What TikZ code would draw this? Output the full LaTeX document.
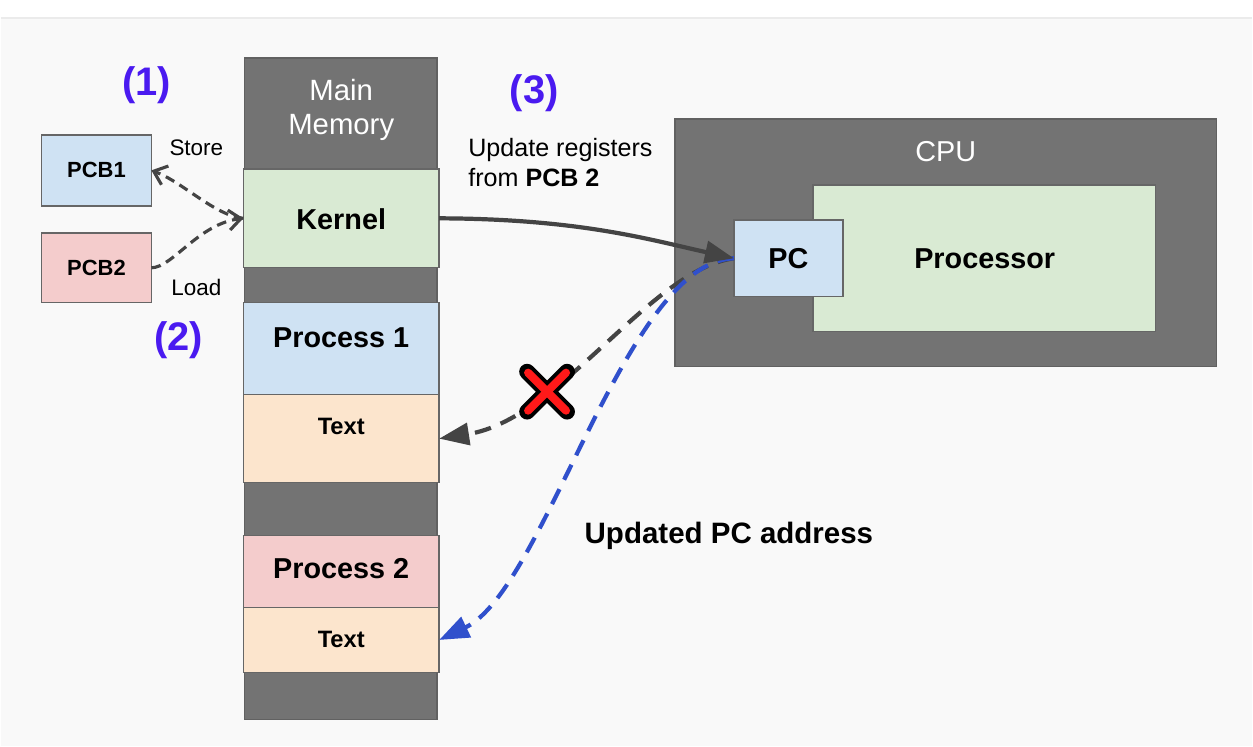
\documentclass[tikz,border=0pt]{standalone}
\usepackage{fontspec}
\setmainfont{Liberation Sans}
\usetikzlibrary{arrows.meta}

\definecolor{pageGray}{HTML}{F9F9F9}
\definecolor{boxGray}{HTML}{737373}
\definecolor{kernelGreen}{HTML}{D9EAD3}
\definecolor{pcbBlue}{HTML}{CFE2F3}
\definecolor{pcbPink}{HTML}{F4CCCC}
\definecolor{textOrange}{HTML}{FCE5CD}
\definecolor{stepViolet}{HTML}{4A1AF0}
\definecolor{pcBlue}{HTML}{3050CC}
\definecolor{arrowGray}{HTML}{444444}

\begin{document}
\begin{tikzpicture}[x=0.02cm, y=-0.02cm]
   \tikzstyle{cell}=[rectangle, draw=black!60, line width=0.8pt, inner sep=0pt, outer sep=0pt]
   \tikzstyle{stepnum}=[text=stepViolet, font=\bfseries\fontsize{22.7}{26}\selectfont]
   \tikzstyle{small}=[font=\fontsize{12.8}{15}\selectfont]
   \tikzstyle{pcbfont}=[font=\bfseries\fontsize{12.5}{15}\selectfont]
   \tikzstyle{big}=[font=\bfseries\fontsize{16.4}{19}\selectfont]
   \tikzstyle{savepath}=[dash pattern=on 5.5pt off 3.5pt, line width=1.8pt, draw=arrowGray]
   \tikzstyle{jump}=[dash pattern=on 9.5pt off 6pt, line width=2.4pt]
   \fill[white] (0,0) rectangle (1253,18);
   \fill[pageGray] (0,18) rectangle (1253,747);
   \draw[black!8, line width=0.6pt] (0,18) -- (1253,18);
   \useasboundingbox (0,0) rectangle (1253,747);

   % main memory column
   \node[cell, fill=boxGray, draw=black!62, minimum width=3.86cm, minimum height=13.24cm] (memory) at (340.5,389) {};
   \node[align=center, text=white, font=\fontsize{16.7}{19.8}\selectfont] (memlabel) at (341,110) {Main\\Memory};
   \foreach \name/\y/\h/\col/\txt/\ty/\fs in {kernel/218.5/1.98/kernelGreen/Kernel/219/16.4,
       proc1/349/1.84/pcbBlue/Process 1/338/16.4,
       text1/439/1.76/textOrange/Text/427/13.5,
       proc2/572/1.44/pcbPink/Process 2/569/16.4,
       text2/640.5/1.30/textOrange/Text/640/13.5} {
       \node[cell, fill=\col, minimum width=3.92cm, minimum height=\h cm] (\name) at (341,\y) {};
       \node[font=\bfseries\fontsize{\fs}{\fs}\selectfont] (lbl\name) at (341,\ty) {\txt};
   }

   % saved process states
   \node[cell, fill=pcbBlue, minimum width=2.2cm, minimum height=1.42cm, pcbfont] (pcb1) at (96,170.5) {PCB1};
   \node[cell, fill=pcbPink, minimum width=2.2cm, minimum height=1.4cm, pcbfont] (pcb2) at (96,268) {PCB2};
   \node[small] (store) at (196,148) {Store};
   \node[small] (load) at (196,288) {Load};
   \draw[savepath, -{Straight Barb[length=2.4mm, width=4mm]}] (kernel.west) .. controls (215,216) and (182,182) .. (pcb1.east);
   \draw[savepath, -{Straight Barb[length=2.4mm, width=4mm]}] (pcb2.east) .. controls (172,268) and (198,224) .. (kernel.west);

   % cpu
   \node[cell, fill=boxGray, draw=black!62, minimum width=10.84cm, minimum height=4.96cm] (cpu) at (946,243) {};
   \node[text=white, font=\fontsize{16.4}{19}\selectfont] (cpulabel) at (946,152) {CPU};
   \node[cell, fill=kernelGreen, minimum width=6.86cm, minimum height=2.94cm] (processor) at (984.5,258.5) {};
   \node[big] (proclabel) at (985,259) {Processor};
   \node[cell, fill=pcbBlue, minimum width=2.18cm, minimum height=1.54cm, big] (pc) at (788.5,258.5) {PC};

   % step labels
   \node[stepnum] (one) at (146,85) {(1)};
   \node[stepnum] (two) at (178,340) {(2)};
   \node[stepnum] (three) at (534,93) {(3)};
   \node[anchor=west, align=left, font=\fontsize{14.3}{17}\selectfont] (update) at (462,163) {Update registers\\from \textbf{PCB 2}};
   \node[font=\bfseries\fontsize{16.8}{19}\selectfont] (newpc) at (729,536) {Updated PC address};

   % jumps out of the cpu
   \draw[jump, draw=arrowGray, -{Triangle[length=6mm, width=4.4mm]}] (pc.west) .. controls (650,270) and (560,420) .. (text1.east);
   \draw[jump, draw=pcBlue, -{Triangle[length=6mm, width=4.4mm]}] (pc.west) .. controls (625,262) and (545,590) .. (text2.east);
   \draw[arrowGray, line width=2.4pt, -{Triangle[length=5.8mm, width=4.4mm]}] (kernel.east) .. controls (580,219) and (650,240) .. (pc.west);

   % crossed out
   \coordinate (cross) at (547,392);
   \foreach \s in {1,-1} {
       \draw[black, line width=9pt, line cap=round] ([shift={(-20,-20*\s)}]cross) -- ([shift={(20,20*\s)}]cross);
   }
   \foreach \s in {1,-1} {
       \draw[red!90!white, line width=4.6pt, line cap=round] ([shift={(-19,-19*\s)}]cross) -- ([shift={(19,19*\s)}]cross);
   }
\end{tikzpicture}
\end{document}
